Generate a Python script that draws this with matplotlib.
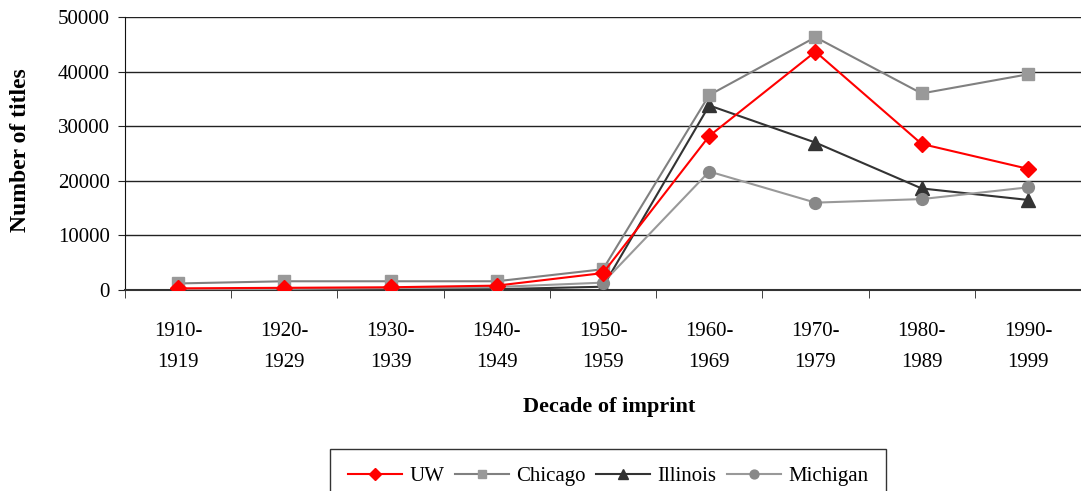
import numpy as np
import matplotlib
matplotlib.use("Agg")
import matplotlib.pyplot as plt
from matplotlib.transforms import Bbox, TransformedBbox

plt.rcParams['font.family'] = ['Liberation Serif', 'DejaVu Serif']

decades = ["1910-\n1919", "1920-\n1929", "1930-\n1939", "1940-\n1949", "1950-\n1959",
           "1960-\n1969", "1970-\n1979", "1980-\n1989", "1990-\n1999"]

uw = [300, 400, 500, 800, 3100, 28200, 43650, 26750, 22200]
chicago = [1200, 1600, 1600, 1600, 3800, 35700, 46300, 36000, 39500]
illinois = [50, 80, 100, 150, 600, 33800, 27000, 18600, 16500]
michigan = [150, 200, 350, 550, 1350, 21700, 16000, 16650, 18800]

fig = plt.figure(figsize=(10.81, 4.91), dpi=100)
ax = fig.add_axes([125 / 1081, 1 - 290 / 491, 956 / 1081, 273 / 491])

x = np.arange(len(decades)) + 0.5

ax.plot(x, uw, color='#ff0000', lw=1.5, marker='D', ms=8, mfc='#ff0000', mec='#ff0000',
        label='UW', zorder=5)
ax.plot(x, chicago, color='#808080', lw=1.5, marker='s', ms=8.5, mfc='#999999', mec='#999999',
        label='Chicago', zorder=4)
ax.plot(x, illinois, color='#333333', lw=1.5, marker='^', ms=10, mfc='#333333', mec='#333333',
        label='Illinois', zorder=3)
ax.plot(x, michigan, color='#999999', lw=1.5, marker='o', ms=8.5, mfc='#888888', mec='#888888',
        label='Michigan', zorder=3)

ax.set_xlim(0, len(decades))
ax.set_ylim(0, 50000)
ax.set_yticks(np.arange(0, 50001, 10000))
ax.yaxis.grid(True, color='#222222', lw=1)
ax.set_axisbelow(True)

ax.set_xticks(x)
ax.set_xticklabels(decades, linespacing=1.85)
ax.set_xticks(np.arange(0, len(decades) + 1), minor=True)
ax.tick_params(axis='x', which='major', length=0, pad=23, labelsize=15)
ax.tick_params(axis='x', which='minor', length=6, direction='out', color='#222222')
ax.tick_params(axis='y', length=5, direction='out', labelsize=15, pad=6, color='#222222')

for s in ['top', 'right']:
    ax.spines[s].set_visible(False)
ax.spines['left'].set_color('#111111')
ax.spines['bottom'].set_color('#333333')
ax.spines['bottom'].set_linewidth(1.5)

fig.text(609 / 1081, 1 - 407 / 491, "Decade of imprint", ha='center', va='center',
         fontsize=16, fontweight='bold')

yl = fig.text(21 / 1081, 1 - 232 / 491, "Number of titles", rotation=90, ha='center',
              va='bottom', fontsize=17, fontweight='bold')
yl.set_clip_box(TransformedBbox(Bbox.from_extents(0, 0, 1, 1 - 62 / 491), fig.transFigure))
yl.set_clip_on(True)

leg = fig.legend(loc='upper center', bbox_to_anchor=(608 / 1081, 1 - 449 / 491), ncol=4,
                 fontsize=15, frameon=True, fancybox=False, edgecolor='#000000',
                 handlelength=2.6, columnspacing=0.5, handletextpad=0.35,
                 borderpad=0.85, borderaxespad=0, markerscale=0.75)
leg.get_frame().set_linewidth(1)

fig.savefig("out.png", dpi=100)
